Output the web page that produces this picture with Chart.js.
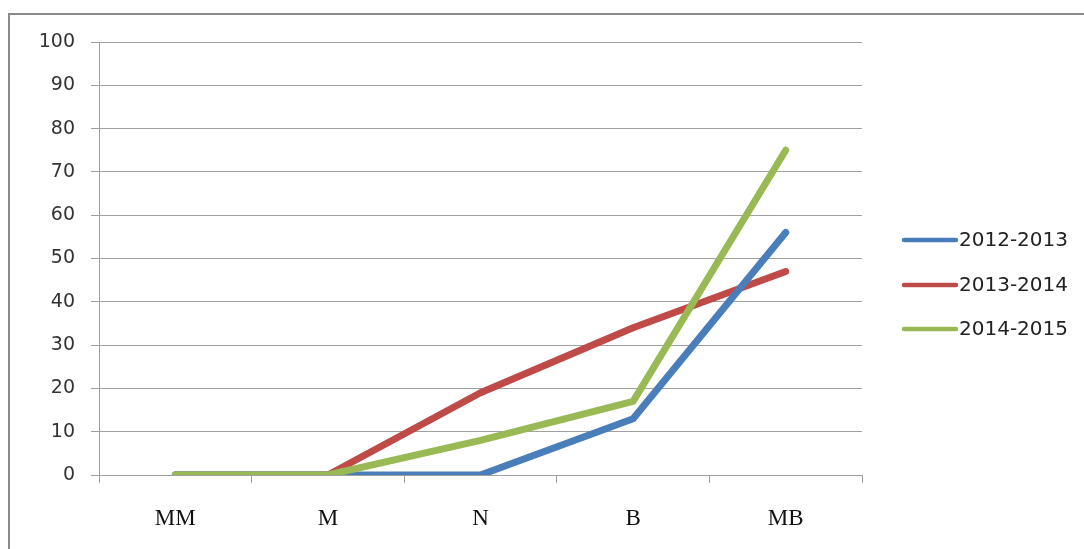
<!DOCTYPE html>
<html><head><meta charset="utf-8">
<script src="https://cdn.jsdelivr.net/npm/chart.js@4"></script>
<style>
html,body{margin:0;padding:0;background:#fff;overflow:hidden}
#frame{position:absolute;left:8px;top:13px;width:1120px;height:580px;border:2px solid #8a8a8a;box-sizing:border-box}
#wrap{position:absolute;left:0;top:0;width:1084px;height:549px}
</style></head>
<body>
<div id="frame"></div>
<div id="wrap"><canvas id="c" width="1084" height="549"></canvas></div>
<script>
const categories = ["MM", "M", "N", "B", "MB"];
const seriesNames = ["2012-2013", "2013-2014", "2014-2015"];
const s2012 = [0, 0, 0, 13, 56];
const s2013 = [0, 0, 19, 34, 47];
const s2014 = [0, 0, 8, 17, 75];
const yTicks = [0, 10, 20, 30, 40, 50, 60, 70, 80, 90, 100];
const colors = ["#4a7ebb", "#be4b48", "#98b954"];
const drawOrder = [1, 2, 0];

const legendPlugin = {
  id: 'sideLegend',
  afterDraw(chart) {
    const ctx = chart.ctx;
    const x0 = 904, x1 = 956, ys = [240, 285, 329];
    ctx.save();
    chart.data.datasets.forEach((ds, i) => {
      ctx.strokeStyle = ds.borderColor;
      ctx.lineWidth = 4.5;
      ctx.lineCap = 'round';
      ctx.beginPath(); ctx.moveTo(x0, ys[i]); ctx.lineTo(x1, ys[i]); ctx.stroke();
      ctx.fillStyle = '#222';
      ctx.font = '20px "DejaVu Sans", sans-serif';
      ctx.textBaseline = 'middle';
      ctx.fillText(ds.label, 959, ys[i] + 1);
    });
    ctx.restore();
  }
};

new Chart(document.getElementById('c'), {
  type: 'line',
  data: {
    labels: categories,
    datasets: [
      { label: seriesNames[0], data: s2012, borderColor: colors[0], order: drawOrder[0] },
      { label: seriesNames[1], data: s2013, borderColor: colors[1], order: drawOrder[1] },
      { label: seriesNames[2], data: s2014, borderColor: colors[2], order: drawOrder[2] }
    ].map(d => Object.assign(d, { borderWidth: 7, pointRadius: 0, pointHoverRadius: 0, tension: 0, fill: false, borderCapStyle: 'round', borderJoinStyle: 'round', backgroundColor: d.borderColor }))
  },
  options: {
    responsive: false,
    animation: false,
    devicePixelRatio: 1,
    layout: { padding: { left: 0, top: 42, right: 222, bottom: 0 } },
    plugins: { legend: { display: false }, tooltip: { enabled: false } },
    scales: {
      x: {
        offset: true,
        grid: { offset: true, drawOnChartArea: false, drawTicks: true, tickLength: 8, color: '#a0a0a0', lineWidth: 1 },
        border: { color: '#a0a0a0', width: 1 },
        ticks: { color: '#111', padding: 22, font: { family: '"Liberation Serif", "Times New Roman", serif', size: 23 } },
        afterFit(s) { s.height = 74; }
      },
      y: {
        min: 0, max: 100,
        afterBuildTicks(s) { s.ticks = yTicks.map(v => ({ value: v })); },
        grid: { color: '#a0a0a0', lineWidth: 1, tickLength: 8, drawTicks: true },
        border: { color: '#a0a0a0', width: 1 },
        ticks: { color: '#333', padding: 16, font: { family: '"DejaVu Sans", sans-serif', size: 19 } },
        afterFit(s) { s.width = 99; }
      }
    }
  },
  plugins: [legendPlugin]
});
</script>
</body></html>
